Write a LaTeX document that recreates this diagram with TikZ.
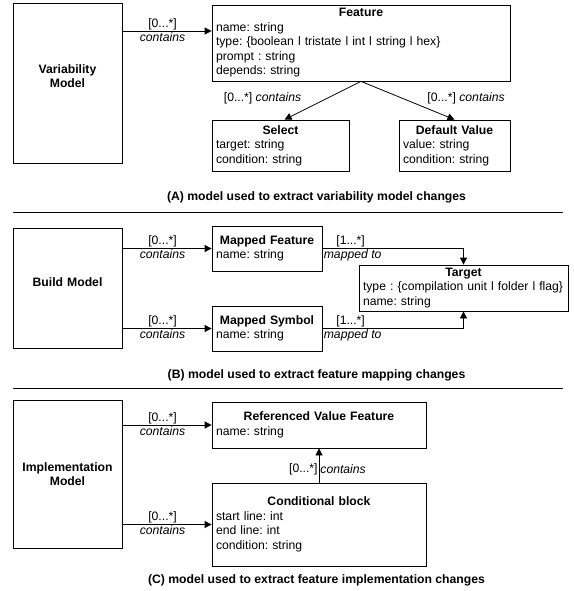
\documentclass[tikz,border=0pt]{standalone}
\usepackage{fontspec}
\setmainfont{Liberation Sans}
\usepackage{tikz}
\usetikzlibrary{arrows.meta,positioning}
\frenchspacing

\begin{document}
\begin{tikzpicture}[x=1pt,y=-1pt,
    font=\fontsize{12.2}{14.5}\selectfont,
    >={Triangle[length=7pt,width=7pt]},
    line width=.8pt,
    model/.style={draw,rectangle,align=center,inner xsep=4pt,text width=101pt,font=\fontsize{12.2}{14.5}\selectfont\bfseries},
    cls/.style={draw,rectangle,align=left,inner xsep=4pt,inner ysep=2pt},
    mult/.style={inner sep=1pt},
    caption/.style={font=\fontsize{12.2}{14.5}\selectfont\bfseries}
    ]
    \useasboundingbox (0,0) rectangle (573,591);
    \path
        (67.5,83)    node [model,minimum height=160pt,text depth=28pt] (vm) {Variability\\Model}
        (361,43)     node [cls,text width=290pt,minimum height=76pt] (feat) {\hfill\textbf{Feature}\hfill\null\\name: string\\type: \{boolean l tristate l int l string l hex\}\\prompt : string\\depends: string}
        (280.5,145.5) node [cls,text width=129pt,minimum height=51pt] (sel) {\hfill\textbf{Select}\hfill\null\\target: string\\condition: string}
        (454.5,145.5) node [cls,text width=103pt,minimum height=51pt] (dv) {\hfill\textbf{Default Value}\hfill\null\\value: string\\condition: string}
        (316.5,197)  node [caption] (capA) {(A) model used to extract variability model changes}
        (67.5,288)   node [model,minimum height=120pt,text depth=12pt] (bm) {Build Model}
        (267,248.5)  node [cls,text width=102pt,minimum height=45pt] (mf) {\hfill\textbf{Mapped Feature}\hfill\null\\name: string}
        (267,328.5)  node [cls,text width=102pt,minimum height=45pt] (ms) {\hfill\textbf{Mapped Symbol}\hfill\null\\name: string}
        (463.5,288)  node [cls,text width=201pt,minimum height=46pt] (tg) {\hfill\textbf{Target}\hfill\null\\type : \{compilation unit l folder l flag\}\\name: string}
        (316.5,375)  node [caption] (capB) {(B) model used to extract feature mapping changes}
        (67.5,474)   node [model,minimum height=148pt] (im) {Implementation\\Model}
        (319,425)    node [cls,text width=206pt,minimum height=46pt] (rvf) {\hfill\textbf{Referenced Value Feature}\hfill\null\\name: string}
        (319,524.5)  node [cls,text width=206pt,minimum height=83pt] (cb) {\hfill\textbf{Conditional block}\hfill\null\\start line: int\\end line: int\\condition: string}
        (316.5,580)  node [caption] (capC) {(C) model used to extract feature implementation changes}
        ;
    \draw (13,212) -- (563,212);
    \draw (13,388) -- (563,388);
    \coordinate (fa) at ([yshift=12pt]feat.west);
    \draw [->] (vm.east |- fa) -- node [mult,pos=.45,above] {[0...*]} node [mult,pos=.45,below] {\textit{contains}} (fa);
    \draw [->] (feat.south) -- node [mult,pos=.45,left=24pt] {[0...*] \textit{contains}} ([xshift=4pt]sel.north);
    \draw [->] (feat.south) -- node [mult,pos=.45,right=23pt] {[0...*] \textit{contains}} (dv.north);
    \draw [->] (bm.east |- mf.west) -- node [mult,pos=.45,above] {[0...*]} node [mult,pos=.45,below] {\textit{contains}} (mf.west);
    \draw [->] (bm.east |- ms.west) -- node [mult,pos=.45,above] {[0...*]} node [mult,pos=.45,below] {\textit{contains}} (ms.west);
    \draw [->] (mf.east) -| node [mult,pos=.1,above] {[1...*]} node [mult,pos=0,below right] {\textit{mapped to}} (tg.north);
    \draw [->] (ms.east) -| node [mult,pos=.1,above] {[1...*]} node [mult,pos=0,below right] {\textit{mapped to}} (tg.south);
    \draw [->] (im.east |- rvf.west) -- node [mult,pos=.45,above] {[0...*]} node [mult,pos=.45,below] {\textit{contains}} (rvf.west);
    \draw [->] (im.east |- cb.west) -- node [mult,pos=.45,above] {[0...*]} node [mult,pos=.45,below] {\textit{contains}} (cb.west);
    \draw [->] (cb.north) -- node [mult,pos=.4,left] {[0...*]} node [mult,pos=.4,right] {\textit{contains}} (rvf.south);
\end{tikzpicture}
\end{document}
